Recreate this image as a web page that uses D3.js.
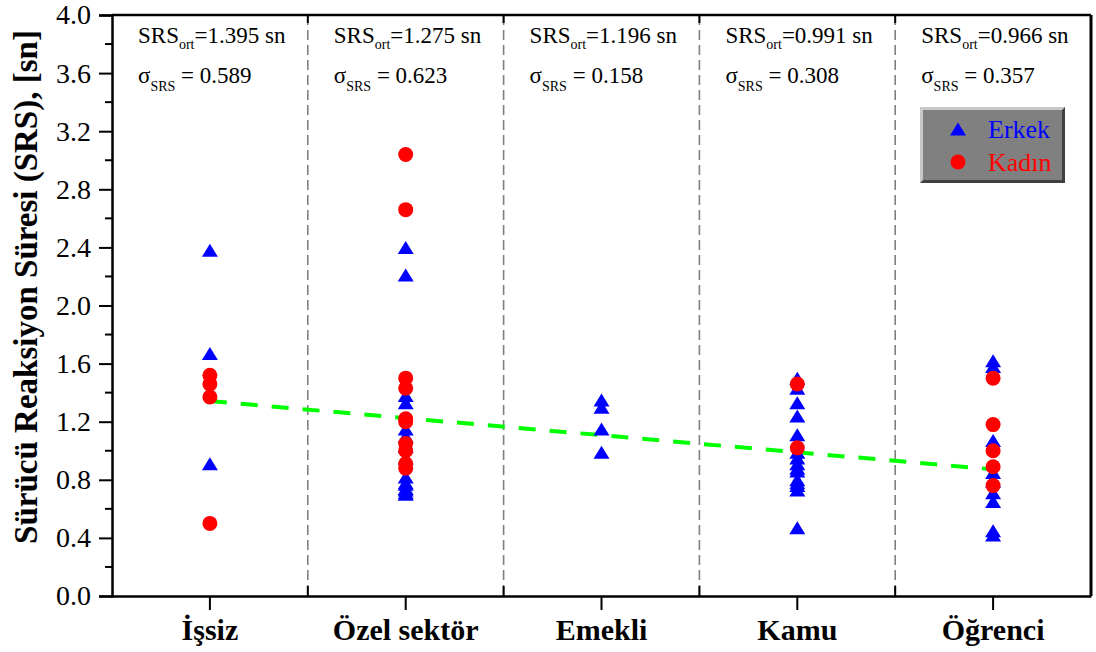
<!DOCTYPE html>
<html>
<head>
<meta charset="utf-8">
<script src="https://cdn.jsdelivr.net/npm/d3@7"></script>
<style>
  body { margin: 0; background: #fff; }
  svg { display: block; }
  svg text { font-family: "Liberation Serif", "Times New Roman", serif; }
</style>
</head>
<body>
<svg id="chart" width="1096" height="652"></svg>
<script>
// Occupation groups along the x axis
const categories = ["İşsiz", "Özel sektör", "Emekli", "Kamu", "Öğrenci"];

// Reaction times (s) of male drivers, one list per group
const erkekValues = [
  [2.38, 1.67, 0.91],
  [2.40, 2.21, 1.38, 1.33, 1.15, 1.10, 1.03, 0.95, 0.82, 0.78, 0.77, 0.74, 0.73, 0.71, 0.70],
  [1.35, 1.30, 1.15, 0.99],
  [1.50, 1.43, 1.33, 1.24, 1.11, 0.99, 0.95, 0.91, 0.88, 0.86, 0.80, 0.78, 0.76, 0.73, 0.47],
  [1.62, 1.58, 1.07, 0.85, 0.79, 0.71, 0.65, 0.45, 0.42]
];

// Reaction times (s) of female drivers, one list per group
const kadinValues = [
  [1.52, 1.46, 1.37, 0.50],
  [3.04, 2.66, 1.50, 1.43, 1.22, 1.20, 1.05, 1.00, 0.91, 0.88],
  [],
  [1.46, 1.02],
  [1.50, 1.18, 1.00, 0.89, 0.76]
];

// Group statistics written at the top of each panel
const meanLabels = ["1.395", "1.275", "1.196", "0.991", "0.966"];
const sigmaLabels = ["0.589", "0.623", "0.158", "0.308", "0.357"];

// Fitted trend: values at the first and the last group
const trendValues = [1.342, 0.872];

// Y axis ticks
const yMajorTicks = [0.0, 0.4, 0.8, 1.2, 1.6, 2.0, 2.4, 2.8, 3.2, 3.6, 4.0];
const yMinorTicks = [0.2, 0.6, 1.0, 1.4, 1.8, 2.2, 2.6, 3.0, 3.4, 3.8];

const legendItems = [
  { label: "Erkek", color: "#0000ff", shape: "triangle" },
  { label: "Kadın", color: "#ff0000", shape: "circle" }
];

const svg = d3.select("#chart");
const plotL = 112, plotR = 1091, plotT = 15, plotB = 596;
const serif = "Liberation Serif";

const x = d3.scaleBand().domain(categories).range([plotL, plotR]).padding(0);
const xc = c => x(c) + x.bandwidth() / 2;
const y = d3.scaleLinear().domain([0, 4]).range([plotB, plotT]);

// Panel separators
const boundaries = categories.slice(1);
svg.append("g").selectAll("line").data(boundaries).join("line")
  .attr("x1", d => x(d)).attr("x2", d => x(d))
  .attr("y1", plotT).attr("y2", plotB)
  .attr("stroke", "#808080").attr("stroke-width", 1.6)
  .attr("stroke-dasharray", "10,5");

// Inner ticks at panel boundaries (top and bottom)
const inner = svg.append("g");
inner.selectAll("line.b").data(boundaries).join("line").attr("class", "b")
  .attr("x1", d => x(d)).attr("x2", d => x(d))
  .attr("y1", plotB).attr("y2", plotB - 10)
  .attr("stroke", "#000").attr("stroke-width", 2);
inner.selectAll("line.t").data(boundaries).join("line").attr("class", "t")
  .attr("x1", d => x(d)).attr("x2", d => x(d))
  .attr("y1", plotT).attr("y2", plotT + 8)
  .attr("stroke", "#000").attr("stroke-width", 2);

// Trend line
svg.append("line")
  .attr("x1", xc(categories[0])).attr("y1", y(trendValues[0]))
  .attr("x2", xc(categories[categories.length - 1])).attr("y2", y(trendValues[1]))
  .attr("stroke", "#00ff00").attr("stroke-width", 4)
  .attr("stroke-dasharray", "17,14");

// Markers
const triW = 16, triH = 13;
const triPath = `M0,${-triH / 2}L${triW / 2},${triH / 2}L${-triW / 2},${triH / 2}Z`;

const erkekPts = erkekValues.flatMap((vals, i) => vals.map(v => ({ c: categories[i], v })));
const kadinPts = kadinValues.flatMap((vals, i) => vals.map(v => ({ c: categories[i], v })));

svg.append("g").selectAll("path").data(erkekPts).join("path")
  .attr("d", triPath)
  .attr("transform", d => `translate(${xc(d.c)},${y(d.v)})`)
  .attr("fill", "#0000ff");

svg.append("g").selectAll("circle").data(kadinPts).join("circle")
  .attr("cx", d => xc(d.c)).attr("cy", d => y(d.v)).attr("r", 7.5)
  .attr("fill", "#ff0000");

// Frame: top and right edges
svg.append("line").attr("x1", plotL).attr("x2", plotR).attr("y1", plotT).attr("y2", plotT)
  .attr("stroke", "#000").attr("stroke-width", 2.5);
svg.append("line").attr("x1", plotR).attr("x2", plotR).attr("y1", plotT).attr("y2", plotB)
  .attr("stroke", "#000").attr("stroke-width", 3);

// Y axis
const yAxis = svg.append("g").attr("transform", `translate(${plotL},0)`)
  .call(d3.axisLeft(y).tickValues(yMajorTicks).tickSize(13).tickPadding(8)
    .tickFormat(d3.format(".1f")));
yAxis.attr("font-family", serif);
yAxis.select(".domain").attr("stroke-width", 2.5);
yAxis.selectAll(".tick line").attr("stroke-width", 2);
yAxis.selectAll("text").attr("font-size", 28).attr("fill", "#000");
svg.append("g").attr("transform", `translate(${plotL},0)`)
  .selectAll("line").data(yMinorTicks).join("line")
  .attr("x1", 0).attr("x2", -7).attr("y1", d => y(d)).attr("y2", d => y(d))
  .attr("stroke", "#000").attr("stroke-width", 2);

// X axis
const xAxis = svg.append("g").attr("transform", `translate(0,${plotB})`)
  .call(d3.axisBottom(x).tickSize(14).tickPadding(6).tickSizeOuter(0));
xAxis.attr("font-family", serif);
xAxis.select(".domain").attr("stroke-width", 2.5);
xAxis.selectAll(".tick line").attr("stroke-width", 2);
xAxis.selectAll("text").attr("font-size", 30).attr("font-weight", "bold")
  .attr("fill", "#000").attr("dy", 0).attr("y", 44);

// Y axis title
svg.append("text")
  .attr("transform", "translate(37,287) rotate(-90)")
  .attr("text-anchor", "middle")
  .attr("font-family", serif)
  .attr("font-size", 33).attr("font-weight", "bold")
  .text("Sürücü Reaksiyon Süresi (SRS), [sn]");

// Group statistics
const stats = svg.append("g").attr("font-family", serif);
categories.forEach((c, i) => {
  const tx = x(c) + 26;
  const t1 = stats.append("text").attr("x", tx).attr("y", 43).attr("font-size", 23);
  t1.append("tspan").text("SRS");
  t1.append("tspan").attr("font-size", 14).attr("dy", 6).text("ort");
  t1.append("tspan").attr("dy", -6).text("=" + meanLabels[i] + " sn");
  const t2 = stats.append("text").attr("x", tx).attr("y", 83).attr("font-size", 23);
  t2.append("tspan").text("σ");
  t2.append("tspan").attr("font-size", 14).attr("dy", 8).text("SRS");
  t2.append("tspan").attr("dy", -8).text(" = " + sigmaLabels[i]);
});

// Legend box with bevelled edge
const lg = svg.append("g").attr("transform", "translate(920,107)").attr("font-family", serif);
const lw = 145, lh = 76;
lg.append("rect").attr("width", lw).attr("height", lh).attr("fill", "#c8c8c8");
lg.append("path").attr("d", `M${lw},0L${lw},${lh}L0,${lh}L3,${lh - 3}L${lw - 3},${lh - 3}L${lw - 3},3Z`)
  .attr("fill", "#404040");
lg.append("rect").attr("x", 3).attr("y", 3).attr("width", lw - 6).attr("height", lh - 6)
  .attr("fill", "#808080");
legendItems.forEach((d, i) => {
  const cy = 22 + i * 33;
  if (d.shape === "triangle") {
    lg.append("path").attr("d", triPath).attr("transform", `translate(38,${cy})`).attr("fill", d.color);
  } else {
    lg.append("circle").attr("cx", 38).attr("cy", cy).attr("r", 7.5).attr("fill", d.color);
  }
  lg.append("text").attr("x", 68).attr("y", cy + 9).attr("font-size", 26)
    .attr("fill", d.color).text(d.label);
});
</script>
</body>
</html>
